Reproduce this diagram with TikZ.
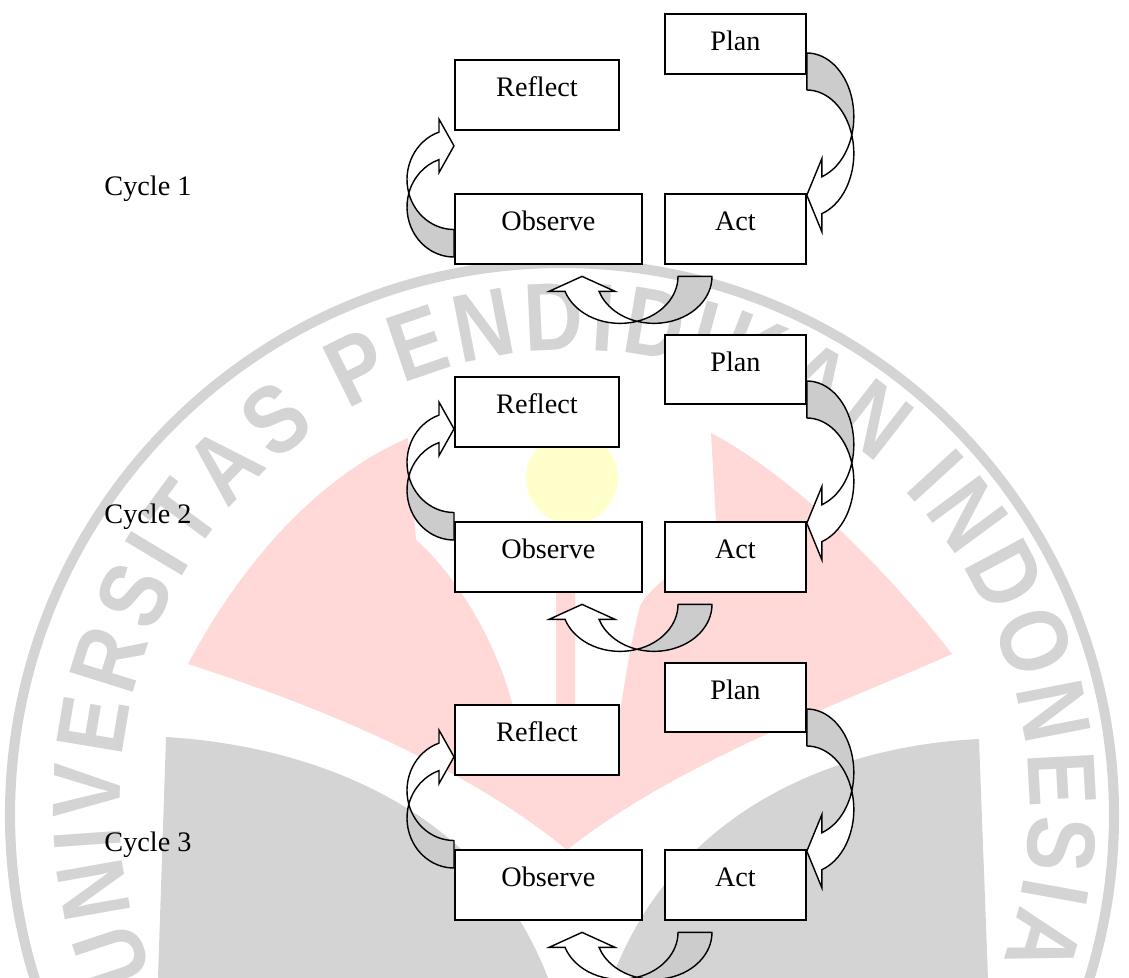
\documentclass[tikz,border=0pt]{standalone}
\usepackage{fontspec}
\setmainfont{Liberation Serif}
\newfontfamily\wmfont{Liberation Sans}[FakeStretch=0.85]
\usetikzlibrary{calc,decorations.text}
\definecolor{wmgrey}{RGB}{212,212,212}
\definecolor{wmpink}{RGB}{255,216,216}
\definecolor{wmyellow}{RGB}{255,255,204}
\definecolor{bandgrey}{RGB}{204,204,204}

\begin{document}
\begin{tikzpicture}
        [
            x=0.425pt, y=-0.425pt,
            every node/.style={font=\fontsize{12}{14}\selectfont},
            box/.style={draw, fill=white, line width=0.8pt, inner sep=0pt, anchor=north west,
                minimum width=#1, text height=15.5pt, text depth=14.25pt},
            cyclelabel/.style={anchor=base west, inner sep=0pt},
            bandback/.style={draw, fill=bandgrey, line width=0.6pt, line join=round},
            bandfront/.style={draw, fill=white, line width=0.6pt, line join=miter},
            pics/band/.style n args={3}{code={
                \pgfmathsetmacro\ta{asin(#1/(2*#2))}
                \pgfmathsetmacro\tb{acos(15/47)}
                \pgfmathsetmacro\cx{47*cos(\ta)}
                \pgfmathsetmacro\cy{#2+#1/2}
                \pgfmathsetmacro\pa{#2*(1+sin(\tb))}
                \pgfmathsetmacro\pb{#1+\pa}
                \path[bandback] (0,0) arc[start angle=-90, end angle=\ta, x radius=47, y radius=#2]
                    arc[start angle=-\ta, end angle=-90, x radius=47, y radius=#2] -- cycle;
                \path[bandfront] (\cx,\cy) arc[start angle=\ta, end angle=\tb, x radius=47, y radius=#2]
                    -- (15,\pa-#3) -- (0,{(\pa+\pb)/2}) -- (15,\pb+#3) -- (15,\pb)
                    arc[start angle=\tb, end angle=-\ta, x radius=47, y radius=#2] -- cycle;
            }}
        ]

        \useasboundingbox (0,0) rectangle (1129,978);

        % watermark
        \begin{scope}
            \clip (0,0) rectangle (1129,978);
            \fill[wmpink] (188,664) .. controls (235,575) and (310,480) .. (408,438)
                -- (416,540) .. controls (440,560) and (490,620) .. (513,706)
                .. controls (520,722) and (550,722) .. (556,706) -- (556,585) -- (575,585) -- (575,706)
                .. controls (585,722) and (615,722) .. (621,706)
                .. controls (628,660) and (635,625) .. (640,606)
                .. controls (660,570) and (712,560) .. (716,521) -- (711,433)
                .. controls (800,480) and (895,580) .. (952,654)
                .. controls (850,700) and (680,760) .. (567,850)
                .. controls (470,770) and (330,710) .. (188,664) -- cycle;
            \fill[wmgrey] (166,737) .. controls (300,745) and (480,800) .. (548,978) -- (158,978) -- cycle;
            \fill[wmgrey] (979,739) .. controls (850,745) and (680,800) .. (612,978) -- (988,978) -- cycle;
            \draw[wmgrey, line width=4.3pt] (562,815) circle[radius=552];
            \path[decorate, decoration={text along path, text color=wmgrey, text align=fit to path,
                text={|\wmfont\bfseries\fontsize{41}{41}\selectfont|UNIVERSITAS PENDIDIKAN INDONESIA}}]
                (575,805) ++(158:455) arc[start angle=158, end angle=380, radius=455];
            \fill[wmyellow] (572,478) circle[radius=46];
        \end{scope}

        \foreach \i/\yp/\hp/\yr/\yo/\dl in {1/13/10pt/59/193/64, 2/334/13.8pt/376/521/19, 3/662/13.8pt/704/849/19} {
            \node[cyclelabel] (cycle\i) at (104,{\yo+2.5}) {Cycle \i};
            \node[box=59.9pt, text depth=\hp] (plan\i) at (664,\yp) {Plan};
            \node[box=69.7pt] (reflect\i) at (454,\yr) {Reflect};
            \node[box=79.5pt] (observe\i) at (454,\yo) {Observe};
            \node[box=59.9pt] (act\i) at (664,\yo) {Act};
            \pic at ($(act\i.north east)+(0,-140)$) {band={37}{63.5}{18}};
            \pic[rotate=180] at ($(observe\i.north west)+(0,\dl)$) {band={27.5}{50}{13}};
            \pic[rotate=-90] at ($(act\i.south west)+(48,11.5)$) {band={34}{58}{16}};
        }
    \end{tikzpicture}
\end{document}
